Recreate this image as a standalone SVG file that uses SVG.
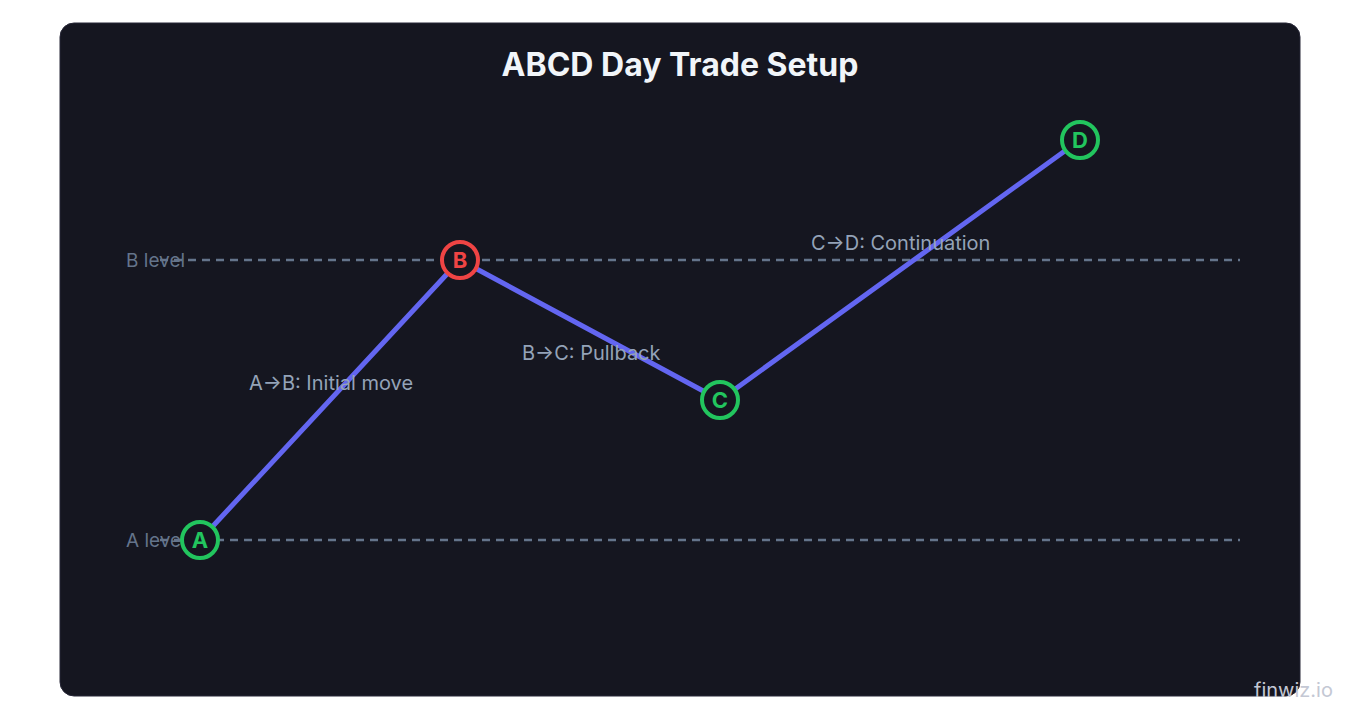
<svg xmlns="http://www.w3.org/2000/svg" width="1360" height="720" viewBox="0 0 1360 720">
  <style>
    .lvl { stroke: #64748b; stroke-width: 2.4; stroke-dasharray: 8 6; fill: none; }
    .lvltxt { font-family: Inter, "Liberation Sans", sans-serif; font-size: 19px; fill: #64748b; }
    .seg { stroke: #6366f1; stroke-width: 5; fill: none; stroke-linecap: round; }
    .lbl { font-family: Inter, "Liberation Sans", sans-serif; font-size: 20px; fill: #94a3b8; }
    .pt circle { fill: #151620; stroke-width: 4; }
    .pt text { font-family: Inter, "Liberation Sans", sans-serif; font-size: 22px; font-weight: 700; text-anchor: middle; }
    .g circle { stroke: #22c55e; } .g text { fill: #22c55e; }
    .r circle { stroke: #ef4444; } .r text { fill: #ef4444; }
  </style>
  <rect x="0" y="0" width="1360" height="720" fill="#ffffff"/>
  <rect id="card" x="60" y="23" width="1240" height="673" rx="14" fill="#151620" stroke="#262636" stroke-width="1"/>
  <text x="680" y="76" text-anchor="middle" font-family="Inter, 'Liberation Sans', sans-serif" font-size="32" font-weight="700" fill="#f1f5f9">ABCD Day Trade Setup</text>

  <g id="levels">
    <text class="lvltxt" x="126" y="267">B level</text>
    <line class="lvl" x1="160" y1="260" x2="1240" y2="260"/>
    <text class="lvltxt" x="126" y="547">A level</text>
    <line class="lvl" x1="160" y1="540" x2="1240" y2="540"/>
  </g>

  <g id="connectors">
    <line class="seg" x1="200" y1="540" x2="460" y2="260"/>
    <line class="seg" x1="460" y1="260" x2="720" y2="400"/>
    <line class="seg" x1="720" y1="400" x2="1080" y2="140"/>
  </g>

  <g id="labels">
    <text class="lbl" x="249" y="390">A→B: Initial move</text>
    <text class="lbl" x="522" y="360">B→C: Pullback</text>
    <text class="lbl" x="811" y="250">C→D: Continuation</text>
  </g>

  <g id="nodeA" class="pt g"><circle cx="200" cy="540" r="18"/><text x="200" y="548">A</text></g>
  <g id="nodeB" class="pt r"><circle cx="460" cy="260" r="18"/><text x="460" y="268">B</text></g>
  <g id="nodeC" class="pt g"><circle cx="720" cy="400" r="18"/><text x="720" y="408">C</text></g>
  <g id="nodeD" class="pt g"><circle cx="1080" cy="140" r="18"/><text x="1080" y="148">D</text></g>

  <text x="1254" y="697" font-family="Inter, 'Liberation Sans', sans-serif" font-size="20" fill="#c4c8d4">finwiz.io</text>
</svg>
